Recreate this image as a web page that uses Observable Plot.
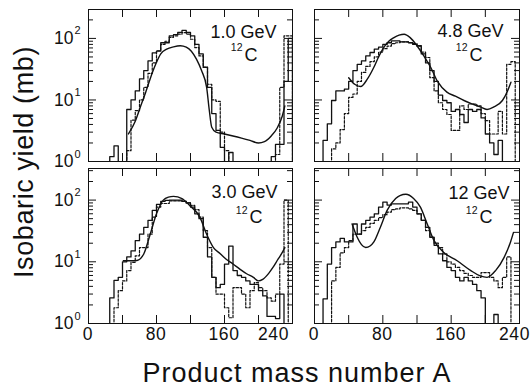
<!DOCTYPE html>
<html><head><meta charset="utf-8">
<script src="https://cdn.jsdelivr.net/npm/d3@7"></script>
<script src="https://cdn.jsdelivr.net/npm/@observablehq/plot@0.6"></script>
<style>
body{margin:0;background:#fff;}
#chart{position:relative;width:532px;height:390px;overflow:hidden;font-family:"Liberation Sans",Arial,Helvetica,sans-serif;color:#111;}
#chart svg{position:absolute;overflow:visible;}
.xl{position:absolute;font-size:17.5px;line-height:17.5px;letter-spacing:0.6px;white-space:nowrap;z-index:5;}
.xt{position:absolute;left:297px;top:360px;transform:translateX(-50%);font-size:27px;line-height:27px;letter-spacing:1px;white-space:nowrap;}
.yt{position:absolute;left:0;top:0;width:300px;height:27px;font-size:27px;line-height:27px;letter-spacing:0.6px;text-align:center;white-space:nowrap;transform-origin:0 0;transform:translate(10.6px,312px) rotate(-90deg);}
</style></head>
<body><div id="chart"></div>
<script>
const F = 0.5, _ = null;   // F: below the 10^0 axis floor
const binA = [10,15,20,25,30,35,40,45,50,55,60,65,70,75,80,85,90,95,100,105,110,115,120,125,130,135,140,145,150,155,160,165,170,175,180,185,190,195,200,205,210,215,220,225,230,235];
const energies = ["1.0 GeV","4.8 GeV","3.0 GeV","12 GeV"];
const massNumber = "12", nucleus = "C";
const xTicks = [0,40,80,120,160,200,240];
const xLabels = [0,80,160,240];
const yMajor = [1,10,100];
const yMinor = [2,3,4,5,6,7,8,9,20,30,40,50,60,70,80,90,200,300];
const yExp = [0,1,2];

// 1.0 GeV
const solid1 = [_,_,_,1.2,1.8,F,F,7,10,14,22,30,43,58,62,85,85,110,115,125,135,125,110,80,56,34,16,6,3.2,1.7,F,1.4,F,F,F,F,F,F,F,F,F,1.2,1.9,1.9,20,100];
const dashed1 = [_,_,_,_,_,_,_,1.5,4.7,6.7,10,16,27,40,63,80,90,104,110,117,124,117,97,71,52,34,18,10,9.5,3.0,1.5,F,F,F,F,F,F,F,F,F,F,F,1.3,16,110,110];
const curveA1 = [47,55,61,67,73,79,85,92,100,108,115,121,127,133,139,142,145,150,160,170,180,190,200,207,215,222,228,231];
const curveV1 = [2.8,4.5,7.7,13,23,38,56,67,73,76,72,62,46,30,16,7,3.6,3.0,2.8,2.6,2.4,2.2,2.0,2.1,2.6,3.5,5.5,8];
// 4.8 GeV
const solid2 = [2.2,4.1,9.8,14,14,15,20,30,38,43,52,59,67,72,80,85,91,91,88,88,85,80,76,56,40,30,20,12,9.8,9,6.5,7,5.8,4.3,7,6.5,7,5.1,2.8,2.0,1.3,2.2,F,_,_,_];
const dashed2 = [_,_,1.6,2.0,3.3,6,11,12.5,20,28,35,42,50,60,68,75,82,85,88,88,85,82,75,60,49,23,14,9,7,5.8,3.2,3.2,8,7,8.6,8.6,8,6,4.6,2.8,2.8,6.5,2.8,38,42,_];
const curveA2 = [40,47,54,62,69.5,75,81,87,93,99,105,112,120,128,136,144,155,165,175,185,194,202,210,220,226,230];
const curveV2 = [23,18,16.5,22,34,50,71,90,103,113,117,103,76,52,34,20,13.4,11.5,9.8,8.6,7.7,7,7.7,9.8,14,19.4];
// 3.0 GeV
const solid3 = [_,_,_,2.6,5.0,5.6,10,12,15,22,28,36,47,68,85,95,99,100,100,100,95,90,77,60,50,25,12,5.6,3.8,4.3,9.2,18,7.2,6,5.6,4.9,4.3,4.3,3.4,2.8,1.3,1.3,1.2,3.0,F,_];
const dashed3 = [_,_,_,_,1.8,3.4,4.9,7.2,9.8,12.5,17,17,28,53,77,88,88,97,97,97,95,90,82,70,53,32,17,5.6,3.0,3.0,1.8,1.24,3.8,3.8,3.0,1.8,3.4,4.6,3.8,3.4,2.6,2.3,3.0,9.2,100,_];
const curveA3 = [41,50,57,65,72.6,80,88,94,100,110,119,131,139,147,155,162,170,178,186,194,200,205,212,217,223,227,231];
const curveV3 = [10.4,10.4,10.5,13.4,28,60,100,112,115,106,82,53,28,17,13.5,11,9.2,7.6,6.4,5.6,4.9,5.2,6.5,8.1,11,13.4,17];
// 12 GeV
const solid4 = [2.5,9.2,17,21,24,21,21,41,28,41,47,53,60,77,93,83,87,87,87,87,93,77,60,47,36,25,18.5,13.4,10.4,8.1,7.2,5.6,4.9,5.6,4.9,4.3,3.4,2.6,F,F,1.4,F,_,_,_,_];
const dashed4 = [_,_,4.9,8.1,14,17,22,28,28,32,36,42,47,52,58,64,70,72,75,75,72,68,60,47,32,25,20,17,13.4,10,9.2,8.1,7.2,6.5,6,5.6,5.6,6.7,6.7,5.6,4.9,3.8,5.6,12,_,_];
const curveA4 = [44,50,55,60,65,69.5,77,85,95,100,107,116,124,132,140,151,167,183,194,202,212,222,229.5,233];
const curveV4 = [41,25,19,17,18,21,36,68,106,118,124,106,77,41,22,14.3,10.4,7.2,5.9,5.6,7.2,11.8,21,30];

function steps(vals) {
  const pts = [];
  binA.forEach((a, i) => { if (vals[i] != null) pts.push({a, v: vals[i]}); });
  const first = pts[0], last = pts[pts.length - 1];
  const w = binA[1] - binA[0];
  return [{a: first.a, v: F}, ...pts, {a: last.a + w, v: last.v}, {a: last.a + w, v: F}];
}

const ink = "#111";
const chart = document.getElementById("chart");
function panel(c) {
  const fw = c.W - c.mL - c.mR, fh = c.H - c.mT - c.mB;
  const minor = yMinor.filter(v => v < c.yMax);
  const marks = [
    Plot.line(steps(c.solid), {x: "a", y: "v", curve: "step-after", stroke: ink, strokeWidth: 1.3, clip: true}),
    Plot.line(steps(c.dashed), {x: "a", y: "v", curve: "step-after", stroke: ink, strokeWidth: 1.2, strokeDasharray: "2.5,1.6", clip: true}),
    Plot.line(c.curveA.map((a, i) => ({a, v: c.curveV[i]})), {x: "a", y: "v", curve: "monotone-x", stroke: ink, strokeWidth: 1.4, clip: true}),
    Plot.ruleX(xTicks, {stroke: ink, insetTop: fh - 8}),
    Plot.ruleX(xTicks, {stroke: ink, insetBottom: fh - 8}),
    Plot.ruleY(yMajor, {stroke: ink, insetRight: fw - 8}),
    Plot.ruleY(yMajor, {stroke: ink, insetLeft: fw - 8}),
    Plot.ruleY(minor, {stroke: ink, insetRight: fw - 5}),
    Plot.ruleY(minor, {stroke: ink, insetLeft: fw - 5}),
    Plot.frame({stroke: ink}),
    Plot.text([c.energy], {text: d => d, frameAnchor: "top-right", textAnchor: "end", lineAnchor: "bottom", dx: c.e[0], dy: c.e[1], fontSize: 18, fill: ink}),
    Plot.text([nucleus], {text: d => d, frameAnchor: "top-right", textAnchor: "end", lineAnchor: "bottom", dx: c.n[0], dy: c.n[1], fontSize: 18, fill: ink}),
    Plot.text([massNumber], {text: d => d, frameAnchor: "top-right", textAnchor: "end", lineAnchor: "bottom", dx: c.m[0], dy: c.m[1], fontSize: 10.5, fill: ink})
  ];
  if (c.showY) {
    marks.push(Plot.text(yMajor, {y: d => d, text: () => "10", frameAnchor: "left", textAnchor: "end", lineAnchor: "middle", dx: -15, fontSize: 17.5, fill: ink}));
    marks.push(Plot.text(yExp, {y: d => 10 ** d, text: d => String(d), frameAnchor: "left", textAnchor: "start", lineAnchor: "bottom", dx: -14, dy: -4, fontSize: 11, fill: ink}));
  }
  const svg = Plot.plot({
    width: c.W, height: c.H,
    marginLeft: c.mL, marginRight: c.mR, marginTop: c.mT, marginBottom: c.mB,
    style: {fontFamily: '"Liberation Sans", Arial, sans-serif', background: "transparent", overflow: "visible"},
    x: {domain: [0, 240], axis: null, label: null},
    y: {type: "log", domain: [1, c.yMax], axis: null, label: null},
    marks
  });
  svg.style.left = c.left + "px";
  svg.style.top = c.top + "px";
  chart.appendChild(svg);
  if (c.showX) {
    const sx = svg.scale("x");
    xLabels.forEach(v => {
      const d = document.createElement("div");
      d.className = "xl";
      d.textContent = v === 0 ? "0\u2060" : String(v);
      const last = v === xLabels[xLabels.length - 1];
      const px = sx.apply(v);
      d.style.left = (c.left + (isFinite(px) ? px : c.mL) + (last ? c.lastDx : 0)) + "px";
      d.style.top = (c.top + c.mT + fh + 3) + "px";
      d.style.transform = last ? "translateX(-100%)" : "translateX(-50%)";
      chart.appendChild(d);
    });
  }
}

const panels = [
  {energy: energies[0], solid: solid1, dashed: dashed1, curveA: curveA1, curveV: curveV1, yMax: 295,
   left: 0, top: 0, W: 300, H: 165, mL: 88, mR: 8, mT: 9, mB: 4, showX: false, showY: true,
   e: [-16, 28], n: [-35, 51], m: [-50, 41]},
  {energy: energies[1], solid: solid2, dashed: dashed2, curveA: curveA2, curveV: curveV2, yMax: 295,
   left: 300, top: 0, W: 232, H: 165, mL: 14, mR: 13, mT: 9, mB: 4, showX: false, showY: false,
   e: [-16, 27], n: [-37, 51], m: [-52, 41]},
  {energy: energies[2], solid: solid3, dashed: dashed3, curveA: curveA3, curveV: curveV3, yMax: 325,
   left: 0, top: 165, W: 300, H: 190, mL: 88, mR: 8, mT: 3, mB: 32, showX: true, showY: true, lastDx: -3,
   e: [-15, 29], n: [-30, 54], m: [-45, 45]},
  {energy: energies[3], solid: solid4, dashed: dashed4, curveA: curveA4, curveV: curveV4, yMax: 325,
   left: 300, top: 165, W: 232, H: 190, mL: 14, mR: 13, mT: 3, mB: 32, showX: true, showY: false, lastDx: 11,
   e: [-10, 30], n: [-27, 54], m: [-42, 45]}
];
panels.forEach(panel);

const xt = document.createElement("div");
xt.className = "xt"; xt.textContent = "Product mass number A";
chart.appendChild(xt);
const yt = document.createElement("div");
yt.className = "yt"; yt.textContent = "Isobaric yield (mb)";
chart.appendChild(yt);
</script>
</body></html>
